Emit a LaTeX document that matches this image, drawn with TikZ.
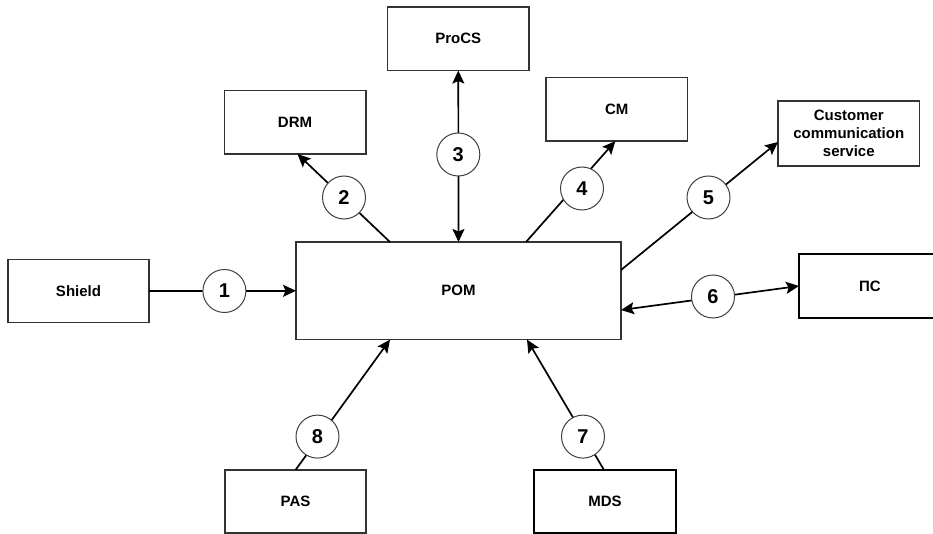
\documentclass[tikz,border=0pt]{standalone}
\usepackage{fontspec}
\setmainfont{Liberation Sans}
\usetikzlibrary{calc,arrows.meta}
\begin{document}
\begin{tikzpicture}[x=1pt,y=-1pt,
  box/.style={draw=black!80,line width=1.5pt,fill=white,minimum width=141.5pt,minimum height=63.5pt,inner sep=2pt,outer sep=0pt,align=center,font=\fontsize{15}{17.8}\selectfont\bfseries},
  boxb/.style={box,draw=black,line width=2.2pt},
  num/.style={circle,draw=black!75,line width=1pt,fill=white,minimum size=43pt,inner sep=0pt,font=\fontsize{20}{20}\selectfont\bfseries},
  tip/.tip={Stealth[length=13pt,width=12pt,inset=2.5pt]},
  conn/.style={line width=1.7pt,-tip},
  conn2/.style={line width=1.7pt,tip-tip}]
\useasboundingbox[fill=white] (0,0) rectangle (933,534);
% boxes
\node[box,minimum width=141pt,minimum height=63pt] (Shield) at (78.5,290.8) {Shield};
\node[box,minimum width=325pt,minimum height=97.6pt] (POM) at (458.5,290.8) {POM};
\node[box] (ProCS) at (458.3,38.8) {ProCS};
\node[box] (DRM) at (295,122.3) {DRM};
\node[box] (CM) at (616.8,109.4) {CM};
\node[box,minimum height=65pt] (CCS) at (848.8,133.5) {Customer\\communication\\service};
\node[boxb,minimum width=142pt,minimum height=64pt] (PS) at (870,286) {ПС};
\node[box,minimum width=141pt,minimum height=63pt] (PAS) at (295.5,501.5) {PAS};
\node[boxb,minimum width=142pt,minimum height=63pt] (MDS) at (605,501.5) {MDS};
% connectors
\draw[conn] (Shield.east) -- (POM.west);
\draw[conn] ($(POM.north west)+(94,0)$) -- ($(DRM.south)+(2.5,0)$);
\draw[conn2] (ProCS.south) -- (POM.north);
\draw[conn] ($(POM.north east)+(-95,0)$) -- ($(CM.south)+(-1.5,0)$);
\draw[conn] ($(POM.north east)+(0,28)$) -- ($(CCS.west)+(0,8.5)$);
\draw[conn2] ($(POM.north east)+(0,68)$) -- (PS.west);
\draw[conn] ($(MDS.north)+(-1,0)$) -- ($(POM.south east)+(-94,0)$);
\draw[conn] (PAS.north) -- ($(POM.south west)+(94,0)$);
% number circles
\node[num] (c1) at (224.4,291) {1};
\node[num] (c2) at (344,197.5) {2};
\node[num] (c3) at (458.3,154.5) {3};
\node[num] (c4) at (582,188.5) {4};
\node[num] (c5) at (708.5,197.5) {5};
\node[num] (c6) at (713,296.5) {6};
\node[num] (c7) at (583,436.6) {7};
\node[num] (c8) at (317.5,436.6) {8};
\end{tikzpicture}
\end{document}
